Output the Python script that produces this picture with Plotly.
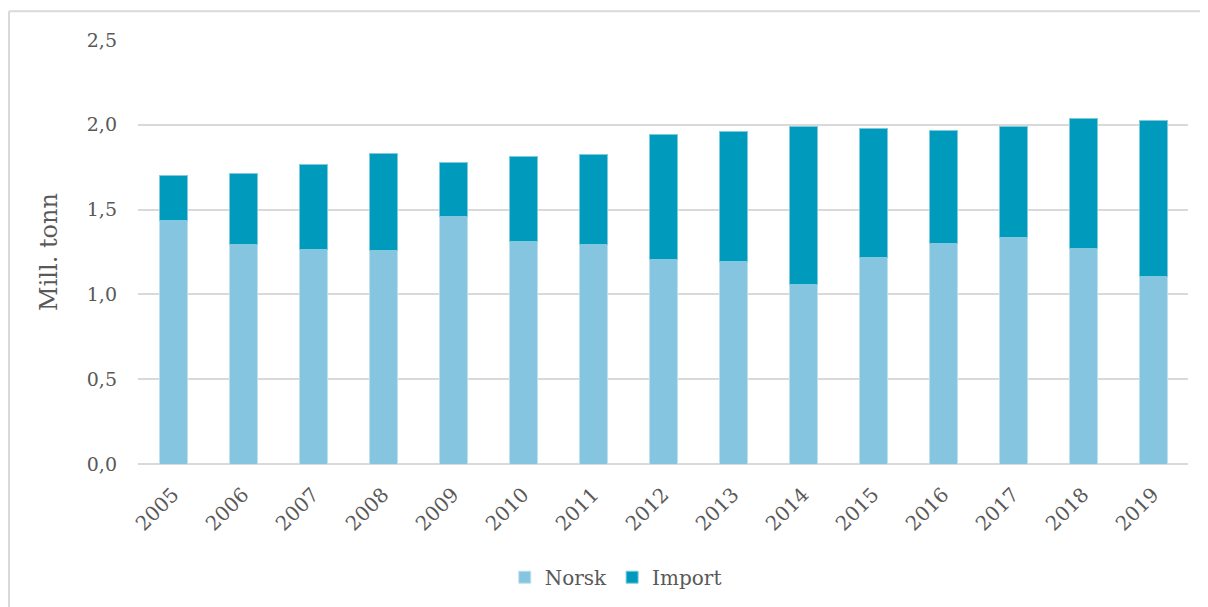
import plotly.graph_objects as go

years = [str(y) for y in range(2005, 2020)]
total = [1.700, 1.710, 1.765, 1.828, 1.780, 1.816, 1.822, 1.945, 1.963,
         1.992, 1.976, 1.965, 1.990, 2.037, 2.025]
norsk = [1.435, 1.294, 1.265, 1.261, 1.457, 1.310, 1.294, 1.208, 1.192,
         1.059, 1.220, 1.298, 1.337, 1.269, 1.106]
imported = [round(t - n, 3) for t, n in zip(total, norsk)]

font_family = "DejaVu Serif"
grey_text = "#595959"
grid_col = "#d9d9d9"

fig = go.Figure()
fig.add_trace(go.Bar(
    x=years, y=norsk, name="Norsk",
    marker=dict(color="#86c5e0", line=dict(color="#bfe0ee", width=1)),
))
fig.add_trace(go.Bar(
    x=years, y=imported, name="Import",
    marker=dict(color="#009abd", line=dict(color="#7fcbdd", width=1)),
))

# page body has an 8px margin, so the figure is a bit smaller than the window
fig.update_layout(
    barmode="stack",
    bargap=0.6,
    width=1200,
    height=599,
    margin=dict(l=130, r=20, t=32, b=142),
    plot_bgcolor="white",
    paper_bgcolor="white",
    font=dict(family=font_family, color=grey_text),
    legend=dict(
        orientation="h", x=0.455, xanchor="center", y=-0.264, yanchor="middle",
        font=dict(size=20, color=grey_text), traceorder="normal",
        itemwidth=30,
    ),
    xaxis=dict(
        tickangle=-45, tickfont=dict(size=20, color=grey_text),
        showgrid=False, showline=False, ticks="", ticklabelstandoff=14,
    ),
    yaxis=dict(
        range=[0, 2.5], dtick=0.5, tickformat=".1f",
        tickfont=dict(size=19, color=grey_text),
        gridcolor=grid_col, gridwidth=2,
        zeroline=True, zerolinecolor=grid_col, zerolinewidth=2,
        showline=False, ticks="", ticklabelstandoff=20,
        title=dict(text="Mill. tonn", font=dict(size=24, color=grey_text), standoff=22),
    ),
    separators=", ",
)

# light frame around the chart (top and left edges)
fig.add_shape(type="line", xref="paper", yref="paper",
              x0=-0.1229, x1=1.05, y0=1.068, y1=1.068,
              line=dict(color="#d9d9d9", width=2))
fig.add_shape(type="line", xref="paper", yref="paper",
              x0=-0.1229, x1=-0.1229, y0=1.068, y1=-0.4,
              line=dict(color="#d9d9d9", width=2))

fig.write_html("out.html")
